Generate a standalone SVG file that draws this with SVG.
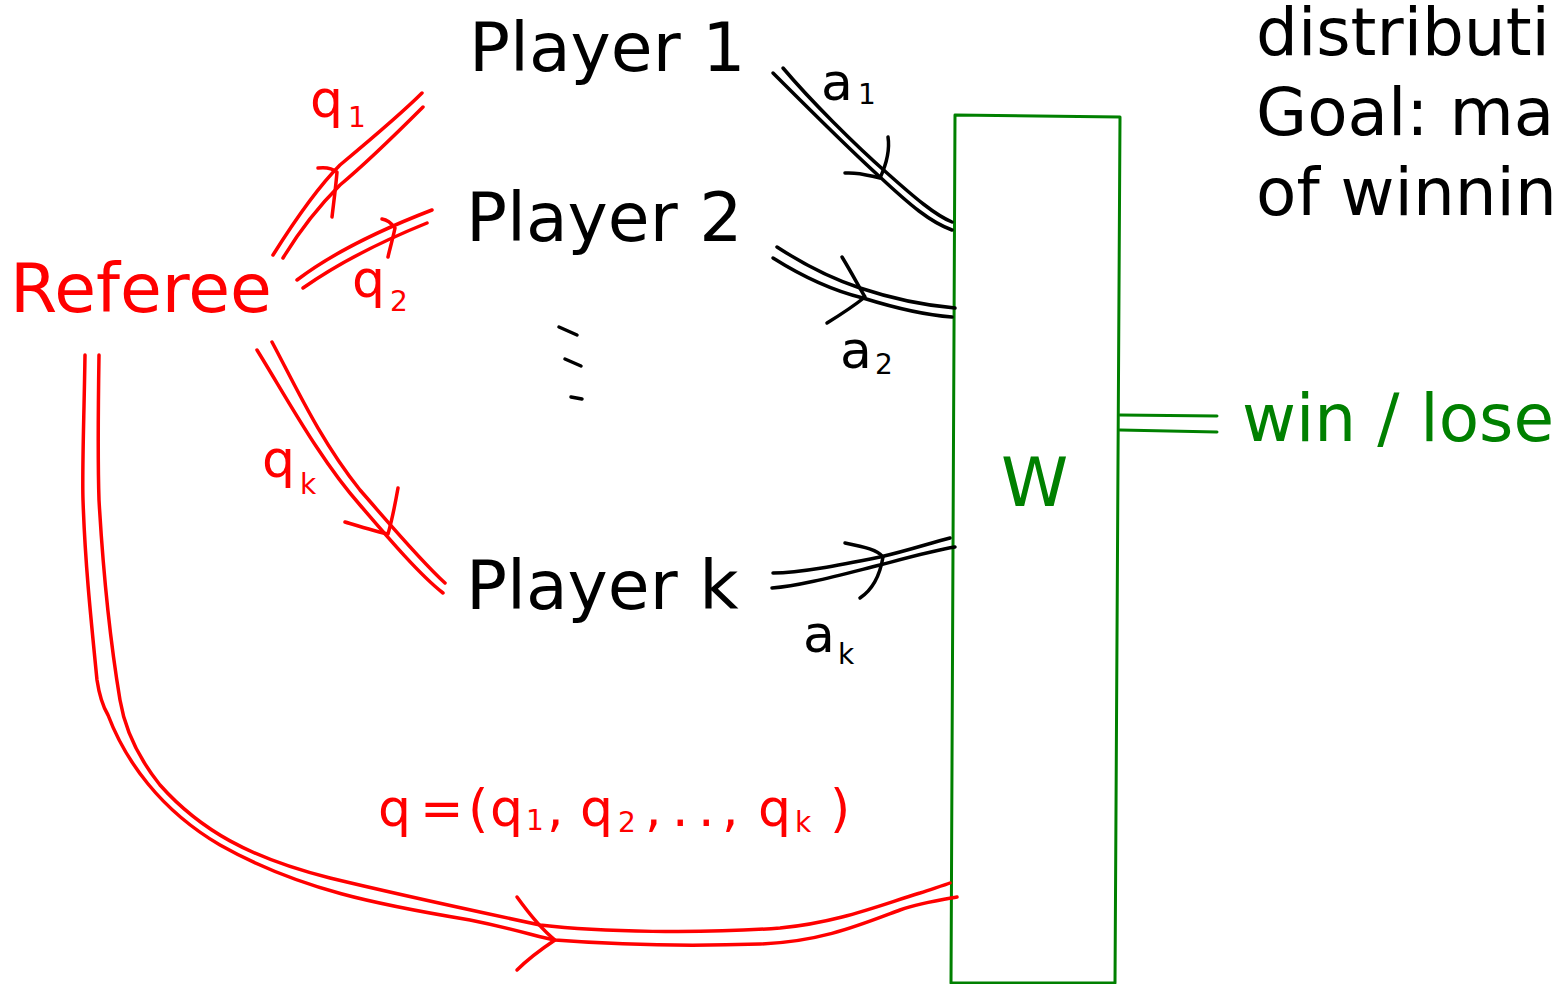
<svg xmlns="http://www.w3.org/2000/svg" width="1557" height="984" viewBox="0 0 1557 984">
<style>
text{font-family:"DejaVu Sans","Liberation Sans",sans-serif}
.big{font-size:68px}
.mid{font-size:66px}
.k{fill:#000}
.r{fill:#ff0000}
.g{fill:#008000}
.hw{font-size:52px}
.sub{font-size:28px}
.sr{fill:none;stroke:#ff0000;stroke-width:3.5;stroke-linecap:round;stroke-linejoin:round}
.sk{fill:none;stroke:#000;stroke-width:3.5;stroke-linecap:round;stroke-linejoin:round}
.sg{fill:none;stroke:#008000;stroke-width:3;stroke-linecap:round;stroke-linejoin:round}
</style>
<rect width="1557" height="984" fill="#fff"/>

<g id="referee"><text class="big r" x="10" y="312">Referee</text></g>
<g id="player1"><text class="big k" x="469" y="71">Player 1</text></g>
<g id="player2"><text class="big k" x="466" y="241">Player 2</text></g>
<g id="dots">
<path class="sk" d="M559,327 L577,335 M565,359 L581,366 M571,397 L582,399"/>
</g>
<g id="playerk"><text class="big k" x="466" y="609">Player k</text></g>
<g id="W">
<path class="sg" d="M951,983 L955,115 L1120,117 L1115,983 Z"/>
<text class="big g" x="1001" y="506">W</text>
</g>
<g id="output"><text class="mid g" x="1242" y="441">win / lose</text></g>
<g id="notes">
<text class="mid k" x="1256" y="55">distributi</text>
<text class="mid k" x="1256" y="135">Goal: ma</text>
<text class="mid k" x="1256" y="215">of winnin</text>
</g>

<g id="connectors">
<g id="c-q1">
<path class="sr" d="M273,255 C295,220 320,185 340,165 C370,140 400,115 422,93"/>
<path class="sr" d="M283,258 C300,230 320,205 340,185 C370,160 400,130 423,107"/>
<path class="sr" d="M318,168 C326,167 332,168 337,172 C336,185 334,200 332,217"/>
</g>
<g id="c-q2">
<path class="sr" d="M297,280 C330,255 380,230 432,210"/>
<path class="sr" d="M303,288 C340,262 385,240 427,223"/>
<path class="sr" d="M382,219 C388,220 392,224 395,228 C393,238 390,248 388,257"/>
</g>
<g id="c-qk">
<path class="sr" d="M257,350 C285,395 320,460 360,505 C390,540 420,575 443,593"/>
<path class="sr" d="M272,342 C295,385 320,440 360,490 C395,530 420,560 445,583"/>
<path class="sr" d="M345,522 C365,528 378,532 388,534 C392,520 395,505 398,488"/>
</g>
<g id="c-q">
<path class="sr" d="M85,355 C84,420 82,470 83,500 C85,560 90,610 97,680 C100,700 105,710 108,715 C125,760 160,810 220,845 C300,890 380,905 470,920 C520,930 540,938 555,940 C620,945 700,946 760,944 C820,942 860,925 900,910 C920,903 940,900 957,897"/>
<path class="sr" d="M99,355 C98,420 98,470 99,500 C103,570 110,640 120,700 C125,730 140,760 160,785 C200,830 250,858 330,878 C400,895 470,910 540,925 C600,932 700,934 780,928 C840,922 880,905 920,893 C935,888 945,885 950,883"/>
<path class="sr" d="M517,897 C530,915 545,932 555,940 C540,950 525,962 517,970"/>
</g>
<g id="c-a1">
<path class="sk" d="M773,73 C800,100 850,150 880,177 C910,205 930,222 952,230"/>
<path class="sk" d="M783,68 C810,100 855,145 887,173 C915,198 935,215 952,222"/>
<path class="sk" d="M845,173 C860,172 870,176 880,178 C886,165 890,150 888,137"/>
</g>
<g id="c-a2">
<path class="sk" d="M777,247 C800,262 830,278 860,288 C890,298 920,305 955,308"/>
<path class="sk" d="M773,258 C800,275 830,290 863,298 C895,308 925,315 952,317"/>
<path class="sk" d="M842,257 C850,270 858,285 865,297 C855,305 840,315 827,323"/>
</g>
<g id="c-ak">
<path class="sk" d="M773,573 C800,573 840,565 880,557 C910,550 930,543 950,538"/>
<path class="sk" d="M772,588 C800,586 840,575 880,565 C910,557 935,550 955,547"/>
<path class="sk" d="M845,543 C865,547 878,550 883,557 C880,575 872,590 860,598"/>
</g>
<g id="c-out">
<path class="sg" d="M1120,415 L1217,416 M1120,430 L1217,432"/>
</g>
</g>

<g id="labels">
<text class="r hw" x="310" y="117">q<tspan class="sub" x="348" y="127">1</tspan></text>
<text class="r hw" x="352" y="297">q<tspan class="sub" x="390" y="311">2</tspan></text>
<text class="r hw" x="262" y="477">q<tspan class="sub" x="300" y="494">k</tspan></text>
<text class="k hw" x="821" y="100">a<tspan class="sub" x="858" y="104">1</tspan></text>
<text class="k hw" x="840" y="368">a<tspan class="sub" x="875" y="374">2</tspan></text>
<text class="k hw" x="803" y="652">a<tspan class="sub" x="838" y="664">k</tspan></text>
<text class="r hw" x="378" y="826">q<tspan x="420">=</tspan><tspan x="468">(</tspan><tspan x="490">q</tspan><tspan class="sub" x="526" y="830">1</tspan><tspan x="547" y="826">,</tspan><tspan x="580">q</tspan><tspan class="sub" x="618" y="832">2</tspan><tspan x="645" y="826">,</tspan><tspan x="672">.</tspan><tspan x="698">.</tspan><tspan x="722">,</tspan><tspan x="758">q</tspan><tspan class="sub" x="795" y="832">k</tspan><tspan x="830" y="826">)</tspan></text>
</g>
</svg>
